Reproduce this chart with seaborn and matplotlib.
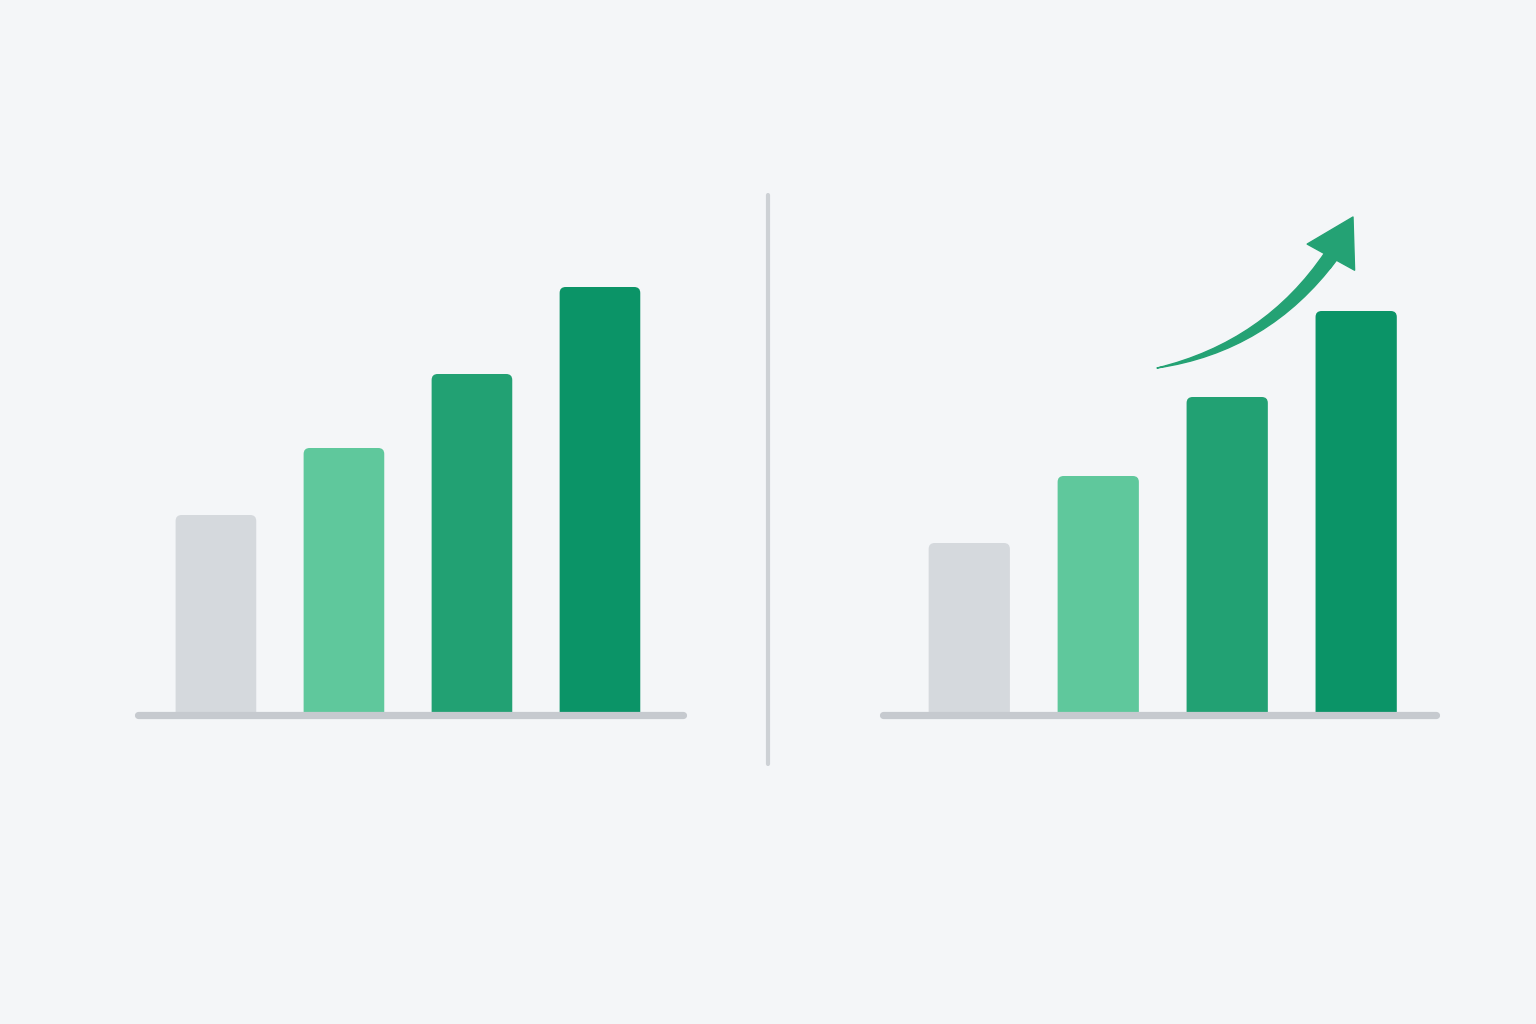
import matplotlib
matplotlib.use("Agg")
import matplotlib.pyplot as plt
import seaborn as sns
import pandas as pd
from matplotlib.patches import FancyBboxPatch, FancyArrowPatch
from matplotlib.lines import Line2D

# data (bar heights, pixel-ish units)
stages = ["A", "B", "C", "D"]
before_vals = [195, 262, 336, 423]
after_vals = [167, 234, 313, 399]
bar_colors = ["#d5d9dd", "#5fc89c", "#22a173", "#0b9467"]

bg = "#f4f6f8"
base_grey = "#c6cacf"
arrow_green = "#24a274"

sns.set_theme(style="white")
plt.rcParams["font.family"] = ["DejaVu Sans"]

W, H = 1536, 1024
fig = plt.figure(figsize=(W / 100, H / 100), dpi=100, facecolor=bg)


def px_axes(x0, x1, y_top, y_bot):
    return fig.add_axes([x0 / W, 1 - y_bot / H, (x1 - x0) / W, (y_bot - y_top) / H])


def draw_panel(ax, vals, xlim, px_per_unit):
    df = pd.DataFrame({"stage": stages, "value": vals})
    sns.barplot(data=df, x="stage", y="value", hue="stage", palette=bar_colors,
                width=0.63, legend=False, ax=ax, saturation=1)
    # swap the plain rectangles for ones with rounded tops;
    # the bottom corners sit below the clipped axes edge
    for p in list(ax.patches):
        x, w, h = p.get_x(), p.get_width(), p.get_height()
        fc = p.get_facecolor()
        p.remove()
        r = FancyBboxPatch((x, -14), w, h + 14,
                           boxstyle="round,pad=0,rounding_size=%f" % (6 / px_per_unit),
                           mutation_aspect=px_per_unit,
                           facecolor=fc, edgecolor="none", zorder=2)
        ax.add_patch(r)
    cap = 3.6 / px_per_unit
    ax.plot([xlim[0] + cap, xlim[1] - cap], [-5, -5], color=base_grey, lw=5.2,
            solid_capstyle="round", zorder=3, clip_on=False)
    ax.set_xlim(*xlim)
    ax.set_ylim(-5, 565)
    ax.axis("off")


ax1 = px_axes(134, 687, 145, 715)
draw_panel(ax1, before_vals, (-0.64, 3.68), 128)

ax2 = px_axes(879, 1440, 145, 715)
draw_panel(ax2, after_vals, (-0.70, 3.65), 129)

# divider
fig.add_artist(Line2D([768 / W, 768 / W], [1 - 195 / H, 1 - 764 / H],
                      color="#cdd1d5", lw=3, solid_capstyle="round"))

# growth arrow: tapered shaft + head
shaft = FancyArrowPatch((1331, H - 256), (1157, H - 368),
                        transform=None,
                        connectionstyle="arc3,rad=-0.2",
                        arrowstyle="wedge,tail_width=1.0,shrink_factor=0.6",
                        mutation_scale=10, color=arrow_green, shrinkA=0, shrinkB=0)
fig.add_artist(shaft)
head = FancyArrowPatch((1326, H - 266), (1353, H - 217),
                       transform=None,
                       arrowstyle="simple,head_length=3.3,head_width=3.9,tail_width=0.7",
                       mutation_scale=10, color=arrow_green, shrinkA=0, shrinkB=0)
fig.add_artist(head)

fig.savefig("out.png", dpi=100, facecolor=bg)
